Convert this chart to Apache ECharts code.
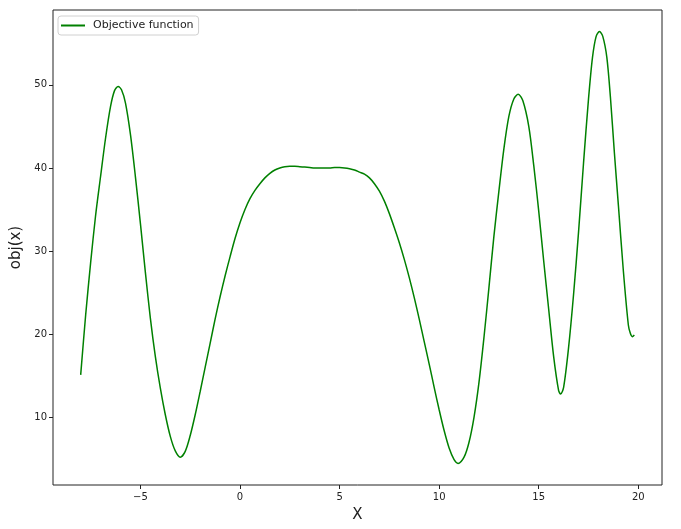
<!DOCTYPE html>
<html>
<head>
<meta charset="utf-8">
<script src="https://cdn.jsdelivr.net/npm/echarts@6/dist/echarts.min.js"></script>
<style>
html,body{margin:0;padding:0;background:#fff;}
#chart{width:681px;height:529px;}
</style>
</head>
<body>
<div id="chart"></div>
<script>
// Data
const xValues = [-8.0,-7.75,-7.5,-7.25,-7.0,-6.75,-6.5,-6.3,-6.12,-5.95,-5.75,-5.5,-5.25,-5.0,-4.75,-4.5,-4.25,-4.0,-3.75,-3.5,-3.25,-3.0,-2.75,-2.5,-2.25,-2.0,-1.75,-1.5,-1.25,-1.0,-0.75,-0.5,-0.25,0.0,0.25,0.5,0.75,1.0,1.25,1.5,1.75,2.0,2.25,2.5,2.75,3.0,3.25,3.5,3.75,4.0,4.25,4.5,4.75,5.0,5.25,5.5,5.75,6.0,6.25,6.5,6.75,7.0,7.25,7.5,7.75,8.0,8.25,8.5,8.75,9.0,9.25,9.5,9.75,10.0,10.25,10.5,10.75,10.95,11.25,11.5,11.75,12.0,12.25,12.5,12.75,13.0,13.25,13.5,13.75,13.97,14.2,14.5,14.75,15.0,15.25,15.5,15.75,16.0,16.1,16.25,16.5,16.75,17.0,17.25,17.5,17.7,17.88,18.05,18.22,18.42,18.6,18.8,19.0,19.25,19.5,19.6,19.7,19.8];
const objValues = [15.1,22.3,28.6,34.3,39.0,43.6,47.4,49.3,49.8,49.4,47.8,44.0,38.9,33.3,27.4,21.9,17.3,13.5,10.3,7.7,5.95,5.2,5.9,7.8,10.3,13.1,16.0,18.9,21.8,24.5,27.0,29.3,31.5,33.4,35.0,36.3,37.3,38.1,38.8,39.35,39.75,40.0,40.15,40.2,40.2,40.15,40.1,40.05,40.0,40.0,40.0,40.0,40.05,40.05,40.0,39.9,39.75,39.5,39.25,38.8,38.1,37.2,36.0,34.5,32.8,31.0,29.0,26.8,24.4,21.8,19.1,16.4,13.6,10.9,8.4,6.3,4.9,4.45,5.2,7.0,10.0,14.2,19.6,25.6,31.8,37.2,42.3,46.2,48.3,48.85,48.1,45.0,40.3,34.8,28.8,23.0,17.3,13.2,12.8,13.6,18.4,24.8,32.3,40.6,48.3,53.3,55.8,56.4,55.8,53.3,48.5,41.8,35.5,27.6,21.1,20.1,19.7,19.9];
const xTicks = [-5, 0, 5, 10, 15, 20];
const yTicks = [10, 20, 30, 40, 50];
const seriesName = 'Objective function';

const chart = echarts.init(document.getElementById('chart'), null, {renderer: 'canvas'});
const fmt = v => (v < 0 ? '\u2212' + Math.abs(v) : String(v));
const font = 'DejaVu Sans';
chart.setOption({
  animation: false,
  backgroundColor: '#ffffff',
  grid: {
    left: 53, right: 19, top: 10, bottom: 44,
    show: true, borderColor: '#222', borderWidth: 1, backgroundColor: '#fff'
  },
  legend: {
    show: true,
    left: 58, top: 16,
    padding: [4, 5, 4, 3],
    itemWidth: 24, itemHeight: 2,
    icon: 'rect',
    backgroundColor: '#fff',
    borderColor: '#d0d0d0', borderWidth: 1, borderRadius: 3,
    textStyle: {fontFamily: font, fontSize: 11, color: '#222', padding: [0, 0, 0, 3]},
    data: [seriesName]
  },
  xAxis: {
    type: 'value',
    min: -9.39, max: 21.19,
    name: 'X', nameLocation: 'middle', nameGap: 23,
    nameTextStyle: {fontFamily: font, fontSize: 15, color: '#222'},
    axisLine: {show: false, onZero: false},
    axisTick: {show: true, customValues: xTicks, length: 4, lineStyle: {color: '#222', width: 1}},
    axisLabel: {customValues: xTicks, formatter: fmt, fontFamily: font, fontSize: 10, color: '#222', margin: 7},
    splitLine: {show: false}
  },
  yAxis: {
    type: 'value',
    min: 1.85, max: 59.0,
    name: 'obj(x)', nameLocation: 'middle', nameGap: 26, nameRotate: 90,
    nameTextStyle: {fontFamily: font, fontSize: 15, color: '#222'},
    axisLine: {show: false, onZero: false},
    axisTick: {show: true, customValues: yTicks, length: 4, lineStyle: {color: '#222', width: 1}},
    axisLabel: {customValues: yTicks, formatter: fmt, fontFamily: font, fontSize: 10, color: '#222', margin: 6},
    splitLine: {show: false}
  },
  series: [{
    name: seriesName,
    type: 'line',
    data: xValues.map((x, i) => [x, objValues[i]]),
    showSymbol: false,
    smooth: 0.3,
    lineStyle: {color: '#008000', width: 1.5},
    itemStyle: {color: '#008000'}
  }]
});
</script>
</body>
</html>
